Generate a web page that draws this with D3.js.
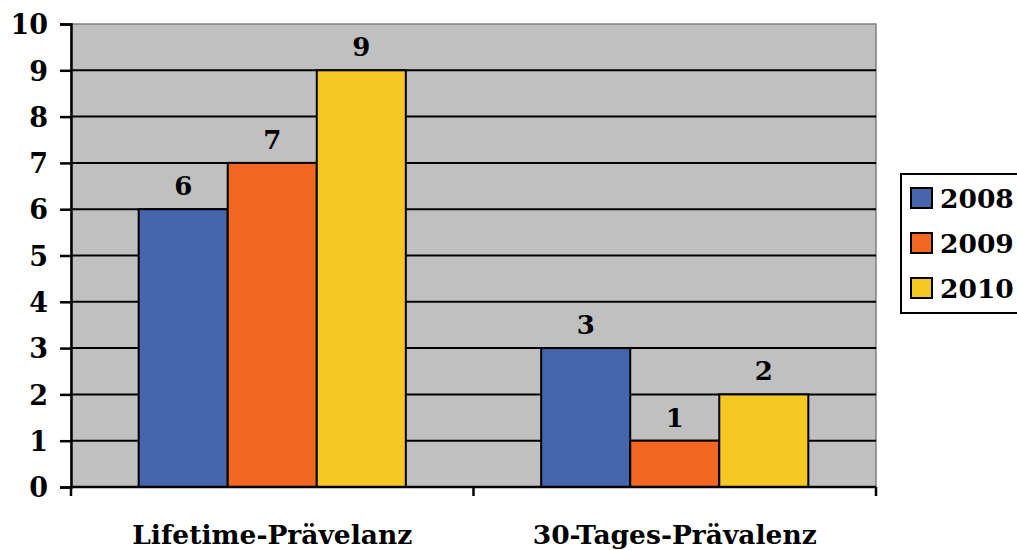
<!DOCTYPE html>
<html>
<head>
<meta charset="utf-8">
<script src="https://cdn.jsdelivr.net/npm/d3@7"></script>
<style>
  html, body { margin: 0; padding: 0; background: #fff; }
  svg text { font-family: "DejaVu Serif", "Liberation Serif", serif; font-weight: bold; fill: #000; }
</style>
</head>
<body>
<svg id="chart" width="1017" height="550"></svg>
<script>
// Categories, series and values
const categories = ["Lifetime-Prävelanz", "30-Tages-Prävalenz"];
const seriesNames = ["2008", "2009", "2010"];
const values2008 = [6, 3];
const values2009 = [7, 1];
const values2010 = [9, 2];
const seriesColors = ["#4565AD", "#F26722", "#F5C823"];
const yTicks = [0, 1, 2, 3, 4, 5, 6, 7, 8, 9, 10];

const seriesValues = [values2008, values2009, values2010];

const svg = d3.select("#chart");
const plot = { left: 71, right: 876, top: 24, bottom: 487 };

const x0 = d3.scaleBand().domain(categories).range([plot.left, plot.right]).paddingInner(0).paddingOuter(0);
const x1 = d3.scaleBand().domain(seriesNames).range([0, x0.bandwidth()]).paddingInner(0).paddingOuter(0.76);
const y = d3.scaleLinear().domain([0, 10]).range([plot.bottom, plot.top]);

// Plot background
svg.append("rect")
  .attr("x", plot.left).attr("y", plot.top)
  .attr("width", plot.right - plot.left).attr("height", plot.bottom - plot.top)
  .attr("fill", "#C0C0C0")
  .attr("stroke", "#808080").attr("stroke-width", 1.5);

// Horizontal gridlines
svg.append("g").selectAll("line")
  .data(yTicks.filter(d => d > 0 && d < 10))
  .join("line")
  .attr("x1", plot.left).attr("x2", plot.right)
  .attr("y1", d => y(d)).attr("y2", d => y(d))
  .attr("stroke", "#000").attr("stroke-width", 2);

// Bars
const groups = svg.append("g").selectAll("g")
  .data(categories)
  .join("g")
  .attr("transform", d => `translate(${x0(d)},0)`);

groups.selectAll("rect")
  .data((c, i) => seriesNames.map((s, j) => ({ s, v: seriesValues[j][i], color: seriesColors[j] })))
  .join("rect")
  .attr("x", d => x1(d.s))
  .attr("y", d => y(d.v))
  .attr("width", x1.bandwidth())
  .attr("height", d => y(0) - y(d.v))
  .attr("fill", d => d.color)
  .attr("stroke", "#000").attr("stroke-width", 2);

// Value labels
groups.selectAll("text")
  .data((c, i) => seriesNames.map((s, j) => ({ s, v: seriesValues[j][i] })))
  .join("text")
  .attr("x", d => x1(d.s) + x1.bandwidth() / 2)
  .attr("y", d => y(d.v) - 14)
  .attr("text-anchor", "middle")
  .attr("font-size", 26)
  .text(d => d.v);

// Y axis
const yAxis = svg.append("g")
  .attr("transform", `translate(${plot.left},0)`)
  .call(d3.axisLeft(y).tickValues(yTicks).tickSize(11).tickPadding(12).tickFormat(d3.format("d")));
yAxis.select(".domain").attr("stroke", "#000").attr("stroke-width", 2.5);
yAxis.selectAll(".tick line").attr("stroke", "#000").attr("stroke-width", 2.5);
yAxis.selectAll(".tick text")
  .attr("font-size", 27)
  .attr("font-family", "DejaVu Serif, serif")
  .attr("font-weight", "bold")
  .attr("fill", "#000")
  .attr("dy", "0.36em");

// X axis with ticks at category boundaries
const xEdges = [plot.left, ...categories.slice(1).map(c => x0(c)), plot.right];
svg.append("line")
  .attr("x1", plot.left).attr("x2", plot.right)
  .attr("y1", plot.bottom).attr("y2", plot.bottom)
  .attr("stroke", "#000").attr("stroke-width", 2.5);
svg.append("g").selectAll("line")
  .data(xEdges)
  .join("line")
  .attr("x1", d => d).attr("x2", d => d)
  .attr("y1", plot.bottom).attr("y2", plot.bottom + 9)
  .attr("stroke", "#000").attr("stroke-width", 2.5);

svg.append("g").selectAll("text")
  .data(categories)
  .join("text")
  .attr("x", d => x0(d) + x0.bandwidth() / 2)
  .attr("y", 544)
  .attr("text-anchor", "middle")
  .attr("font-size", 26.5)
  .text(d => d);

// Legend
const legend = svg.append("g");
legend.append("rect")
  .attr("x", 901).attr("y", 174)
  .attr("width", 130).attr("height", 139)
  .attr("fill", "#fff").attr("stroke", "#000").attr("stroke-width", 2);
const items = legend.selectAll("g.item")
  .data(seriesNames)
  .join("g")
  .attr("class", "item")
  .attr("transform", (d, i) => `translate(911,${188 + i * 45})`);
items.append("rect")
  .attr("width", 21).attr("height", 20)
  .attr("fill", (d, i) => seriesColors[i])
  .attr("stroke", "#000").attr("stroke-width", 2);
items.append("text")
  .attr("x", 29).attr("y", 20)
  .attr("font-size", 26.5)
  .text(d => d);
</script>
</body>
</html>
